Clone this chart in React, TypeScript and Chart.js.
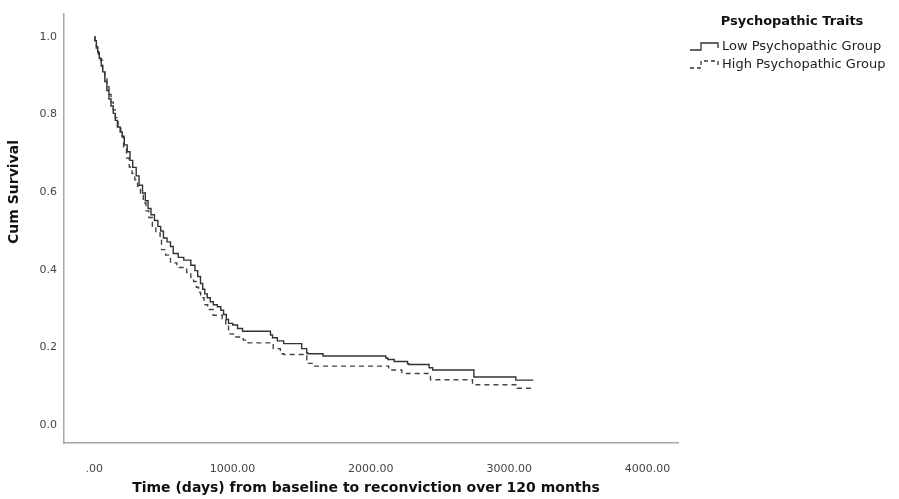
import { useEffect, useRef } from 'react';
import { Chart, registerables } from 'chart.js';

Chart.register(...registerables);

// Kaplan-Meier step points (time in days, cumulative survival after the step)
const lowTimes = [0, 5, 15, 25, 36, 50, 61, 76, 91, 106, 121, 137, 152, 167, 187, 202, 217, 238, 258, 278, 303, 324, 349, 369, 389, 410, 435, 460, 480, 500, 526, 551, 571, 607, 647, 698, 728, 748, 768, 784, 799, 817, 839, 861, 890, 915, 935, 955, 971, 1001, 1036, 1072, 1274, 1289, 1324, 1370, 1500, 1536, 1545, 1654, 2108, 2123, 2169, 2265, 2275, 2421, 2447, 2745, 3048, 3175];
const lowSurvival = [1.0, 0.99, 0.975, 0.96, 0.945, 0.925, 0.91, 0.885, 0.862, 0.84, 0.822, 0.803, 0.785, 0.768, 0.755, 0.742, 0.722, 0.704, 0.682, 0.664, 0.642, 0.618, 0.598, 0.578, 0.558, 0.542, 0.527, 0.512, 0.5, 0.482, 0.472, 0.46, 0.442, 0.432, 0.425, 0.412, 0.398, 0.383, 0.365, 0.35, 0.338, 0.328, 0.318, 0.31, 0.305, 0.296, 0.285, 0.272, 0.262, 0.258, 0.249, 0.242, 0.232, 0.225, 0.217, 0.21, 0.197, 0.186, 0.184, 0.178, 0.173, 0.169, 0.164, 0.158, 0.156, 0.148, 0.142, 0.124, 0.116, 0.116];

const highTimes = [0, 5, 15, 30, 45, 60, 76, 91, 106, 121, 137, 152, 172, 192, 212, 233, 253, 273, 293, 313, 334, 354, 374, 394, 420, 445, 476, 486, 516, 551, 597, 668, 698, 718, 738, 754, 769, 794, 820, 860, 925, 951, 971, 1006, 1077, 1113, 1294, 1345, 1370, 1537, 1549, 1585, 2129, 2224, 2431, 2735, 3058, 3175];
const highSurvival = [1.0, 0.985, 0.97, 0.955, 0.94, 0.915, 0.893, 0.872, 0.852, 0.832, 0.812, 0.792, 0.765, 0.745, 0.712, 0.688, 0.665, 0.648, 0.632, 0.615, 0.592, 0.572, 0.552, 0.535, 0.512, 0.495, 0.478, 0.452, 0.438, 0.418, 0.406, 0.393, 0.38, 0.37, 0.355, 0.342, 0.328, 0.31, 0.298, 0.283, 0.274, 0.258, 0.235, 0.227, 0.219, 0.212, 0.197, 0.184, 0.182, 0.168, 0.159, 0.152, 0.142, 0.133, 0.117, 0.104, 0.095, 0.095];

const yTicks = [0, 0.2, 0.4, 0.6, 0.8, 1.0];
const xTicks = [0, 1000, 2000, 3000, 4000];
const seriesLabels = ['Low Psychopathic Group', 'High Psychopathic Group'];
const legendTitle = 'Psychopathic Traits';
const xTitle = 'Time (days) from baseline to reconviction over 120 months';
const yTitle = 'Cum Survival';

const FONT = '"DejaVu Sans", "Liberation Sans", sans-serif';

const overlayPlugin = {
  id: 'overlay',
  afterDraw(chart: any) {
    const ctx = chart.ctx as CanvasRenderingContext2D;
    ctx.save();
    // axis titles
    ctx.fillStyle = '#111';
    ctx.textAlign = 'center';
    ctx.textBaseline = 'middle';
    ctx.font = `bold 14px ${FONT}`;
    ctx.fillText(xTitle, 366, 488);
    ctx.save();
    ctx.translate(14, 192);
    ctx.rotate(-Math.PI / 2);
    ctx.fillText(yTitle, 0, 0);
    ctx.restore();

    // legend
    ctx.font = `bold 13px ${FONT}`;
    ctx.fillText(legendTitle, 792, 22);
    ctx.textAlign = 'left';
    ctx.font = `13px ${FONT}`;
    ctx.fillStyle = '#222';
    const rows = [47, 65];
    rows.forEach((cy, i) => {
      ctx.fillText(seriesLabels[i], 722, cy);
      ctx.beginPath();
      ctx.strokeStyle = '#333';
      ctx.lineWidth = 1.3;
      ctx.setLineDash(i === 0 ? [] : [4, 3]);
      ctx.moveTo(690, cy + 3);
      ctx.lineTo(701, cy + 3);
      ctx.lineTo(701, cy - 4);
      ctx.lineTo(718, cy - 4);
      ctx.lineTo(718, cy + 1);
      ctx.stroke();
    });
    ctx.restore();
  },
};

export default function App() {
  const canvasRef = useRef<HTMLCanvasElement | null>(null);

  useEffect(() => {
    document.body.style.margin = '0';
    const canvas = canvasRef.current;
    if (!canvas) return;
    const chart = new Chart(canvas, {
      type: 'line',
      data: {
        datasets: [
          {
            label: seriesLabels[0],
            data: lowTimes.map((t, i) => ({ x: t, y: lowSurvival[i] })),
            stepped: 'before',
            borderColor: '#333',
            borderWidth: 1.4,
            pointRadius: 0,
            fill: false,
          },
          {
            label: seriesLabels[1],
            data: highTimes.map((t, i) => ({ x: t, y: highSurvival[i] })),
            stepped: 'before',
            borderColor: '#444',
            borderWidth: 1.4,
            borderDash: [5, 4],
            pointRadius: 0,
            fill: false,
          },
        ],
      },
      options: {
        responsive: false,
        animation: false,
        layout: { padding: { top: 8, right: 221, left: 0, bottom: 0 } },
        plugins: { legend: { display: false }, tooltip: { enabled: false } },
        scales: {
          x: {
            type: 'linear',
            min: -219,
            max: 4221,
            afterBuildTicks: (s: any) => {
              s.ticks = xTicks.map((v) => ({ value: v }));
            },
            afterFit: (s: any) => {
              s.height = 56;
            },
            ticks: {
              callback: (v: any) => (Number(v) === 0 ? '.00' : Number(v).toFixed(2)),
              padding: 20,
              color: '#444',
              font: { family: FONT, size: 11 },
              maxRotation: 0,
            },
            grid: { display: false, drawTicks: false },
            border: { display: true, color: '#a8a8a8', width: 1.5 },
          },
          y: {
            type: 'linear',
            min: -0.046,
            max: 1.06,
            afterBuildTicks: (s: any) => {
              s.ticks = yTicks.map((v) => ({ value: v }));
            },
            afterFit: (s: any) => {
              s.width = 64;
            },
            ticks: {
              callback: (v: any) => Number(v).toFixed(1),
              padding: 7,
              color: '#444',
              font: { family: FONT, size: 11 },
            },
            grid: { display: false, drawTicks: false },
            border: { display: true, color: '#a8a8a8', width: 1.5 },
          },
        },
      },
      plugins: [overlayPlugin],
    } as any);
    return () => chart.destroy();
  }, []);

  return (
    <div style={{ position: 'absolute', left: 0, top: 0, width: 899, height: 499, background: '#fff' }}>
      <canvas ref={canvasRef} width={899} height={499} style={{ width: 899, height: 499 }} />
    </div>
  );
}
